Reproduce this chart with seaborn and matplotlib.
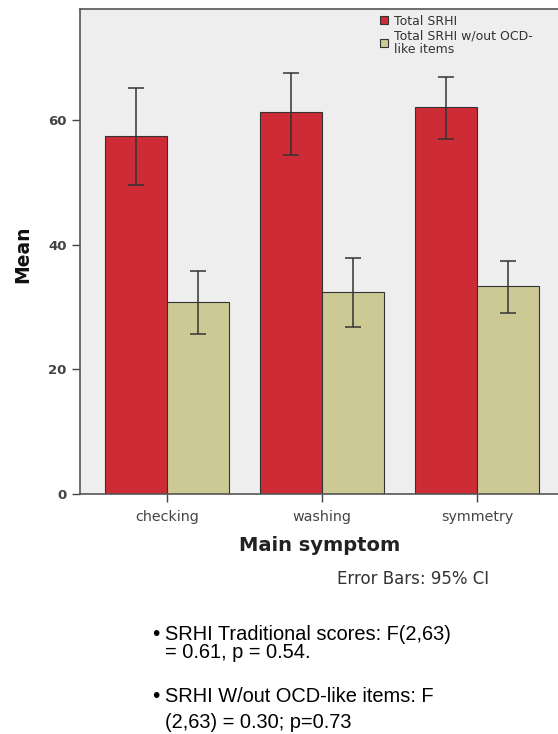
import pandas as pd
import matplotlib.pyplot as plt
import seaborn as sns

# values
symptoms = ['checking', 'washing', 'symmetry']
series = ['Total SRHI', 'Total SRHI w/out OCD-\nlike items']
total_mean = [57.5, 61.2, 62.0]
total_lo = [49.6, 54.4, 57.0]
total_hi = [65.2, 67.6, 66.9]
nocd_mean = [30.8, 32.4, 33.3]
nocd_lo = [25.6, 26.8, 29.0]
nocd_hi = [35.8, 37.9, 37.3]

df = pd.DataFrame({
    'symptom': symptoms * 2,
    'series': [series[0]] * 3 + [series[1]] * 3,
    'mean': total_mean + nocd_mean,
    'lo': total_lo + nocd_lo,
    'hi': total_hi + nocd_hi,
})

sns.set_style('white')
plt.rcParams['font.family'] = ['DejaVu Sans']

fig = plt.figure(figsize=(5.58, 7.34), dpi=100)
ax = fig.add_axes([80 / 558, 1 - 494 / 734, 478 / 558, 485 / 734])
ax.set_facecolor('#eeeeee')

sns.barplot(data=df, x='symptom', y='mean', hue='series', order=symptoms,
            hue_order=series, palette=['#cd2b35', '#cdc995'], errorbar=None,
            edgecolor='#333333', linewidth=0.8, saturation=1, ax=ax)

# error bars from the bar positions
for cont, s in zip(ax.containers, series):
    sub = df[df['series'] == s].set_index('symptom').loc[symptoms]
    xs = [p.get_x() + p.get_width() / 2 for p in cont.patches]
    ax.errorbar(xs, sub['mean'], yerr=[sub['mean'] - sub['lo'], sub['hi'] - sub['mean']],
                fmt='none', ecolor='#333333', elinewidth=1.1, capsize=5.5, capthick=1.1)

ax.set_xlim(-0.56, 2.52)
ax.set_ylim(0, 77.8)
ax.set_yticks([0, 20, 40, 60])
for sp in ['top', 'bottom', 'left']:
    ax.spines[sp].set_color('#555555')
    ax.spines[sp].set_linewidth(1.2)
ax.spines['right'].set_visible(False)
ax.tick_params(axis='both', direction='out', length=6, width=1, color='#444444',
               labelcolor='#444444', bottom=True, left=True)
ax.tick_params(axis='y', labelsize=9.5)
ax.tick_params(axis='x', labelsize=10.3, pad=5.5)
for lab in ax.get_yticklabels():
    lab.set_fontweight('bold')

ax.set_xlabel('Main symptom', fontsize=14, fontweight='bold', color='#222222')
ax.xaxis.set_label_coords(0.502, -0.086)
ax.set_ylabel('Mean', fontsize=13.5, fontweight='bold', color='#111111')
ax.yaxis.set_label_coords(-0.100, 0.495)

leg = ax.legend(loc='upper left', bbox_to_anchor=(0.628, 0.988), frameon=False,
                fontsize=9, handlelength=0.6, handleheight=0.6, handletextpad=0.5,
                labelspacing=0.15, borderaxespad=0, borderpad=0)
for t in leg.get_texts():
    t.set_color('#333333')
    t.set_linespacing(1.0)

fig.text(337 / 558, 1 - 579 / 734, 'Error Bars: 95% CI', fontsize=12, color='#333333',
         va='center', ha='left')

# notes under the chart
bullet_font = 'Liberation Sans'
notes = [('•', 152, 634, 15), ('SRHI Traditional scores: F(2,63)', 165, 634, 14.4),
         ('= 0.61, p = 0.54.', 165, 653, 14.4), ('•', 152, 697, 15),
         ('SRHI W/out OCD-like items: F', 165, 697, 14.4),
         ('(2,63) = 0.30; p=0.73', 165, 723, 14.4)]
for txt, px, py, fs in notes:
    fig.text(px / 558, 1 - py / 734, txt, fontsize=fs, family=bullet_font,
             color='black', va='center')

fig.savefig('out.png', dpi=100)
